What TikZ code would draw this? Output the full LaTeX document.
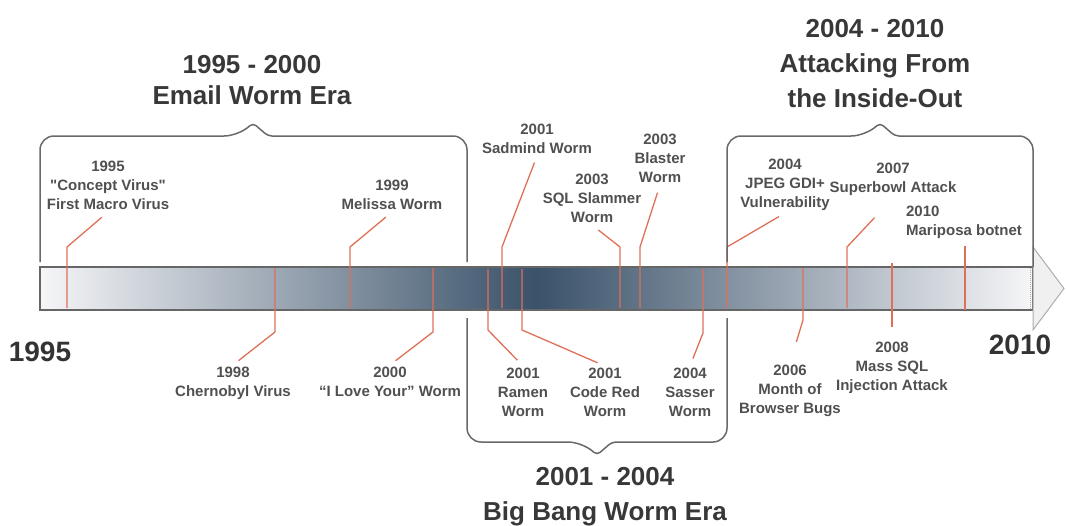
\documentclass[tikz,border=0pt]{standalone}
\usepackage{fontspec}
\setmainfont{Liberation Sans}
\definecolor{conncol}{RGB}{222,112,88}
\definecolor{bardark}{RGB}{58,82,106}
\definecolor{barlight}{RGB}{246,246,248}
\definecolor{txtgray}{RGB}{80,80,80}
\definecolor{brkgray}{RGB}{105,105,105}

\begin{document}
\begin{tikzpicture}[x=1pt, y=-1pt,
    every node/.style={text=txtgray},
    evt/.style={font=\fontsize{15}{19}\selectfont\bfseries, align=center, inner sep=2pt},
    era/.style={font=\fontsize{26}{35}\selectfont\bfseries, align=center, text=black!78},
    yr/.style={font=\fontsize{28}{30}\selectfont\bfseries, text=black!80},
    conn/.style={draw=conncol, line width=1.3pt},
    brk/.style={draw=brkgray, line width=1.5pt}
]
    \useasboundingbox (0,0) rectangle (1066,525);
    % time bar
    \draw[left color=barlight, right color=barlight, middle color=bardark,
          draw=gray!80!black, line width=1.2pt] (40,267) rectangle (1033,310);
    \draw[fill=gray!12, draw=gray!65, line width=1pt] (1033,247) -- (1064,288.5) -- (1033,330) -- cycle;
    \draw[densely dotted, gray!60, line width=1pt] (1030,268) -- (1030,309);
    % points on the bar
    \coordinate (b95) at (67,308);
    \coordinate (b99) at (350,308);
    \coordinate (b01s) at (502,308);
    \coordinate (b03q) at (620,308);
    \coordinate (b03b) at (640,308);
    \coordinate (b04j) at (727,308);
    \coordinate (b07) at (847,308);
    \coordinate (b10) at (965,310);
    \coordinate (b98) at (275,268);
    \coordinate (b00) at (433,268);
    \coordinate (b01r) at (488,269);
    \coordinate (b01c) at (522,269);
    \coordinate (b04s) at (703,269);
    \coordinate (b06) at (803,268);
    \coordinate (b08) at (892,263);
    % events above the bar
    \node[evt, anchor=south] (l95) at (108,212) {1995\\\textquotedbl Concept Virus\textquotedbl\\First Macro Virus};
    \node[evt, anchor=south] (l99) at (392,212) {1999\\Melissa Worm};
    \node[evt, anchor=south] (l01s) at (537,156) {2001\\Sadmind Worm};
    \node[evt, anchor=south] (l03q) at (592,225) {2003\\SQL Slammer\\Worm};
    \node[evt, anchor=south] (l03b) at (660,185) {2003\\Blaster\\Worm};
    \node[evt, anchor=south] (l04j) at (785,213) {2004\\JPEG GDI+\\Vulnerability};
    \node[evt, anchor=south] (l07) at (893,198) {2007\\Superbowl Attack};
    \node[evt, anchor=south, align=left] (l10) at (964,241) {2010\\Mariposa botnet};
    % events below the bar
    \node[evt, anchor=north] (l98) at (233,365) {1998\\Chernobyl Virus};
    \node[evt, anchor=north] (l00) at (390,365) {2000\\“I Love Your” Worm};
    \node[evt, anchor=north] (l01r) at (523,366) {2001\\Ramen\\Worm};
    \node[evt, anchor=north] (l01c) at (605,366) {2001\\Code Red\\Worm};
    \node[evt, anchor=north] (l04s) at (690,366) {2004\\Sasser\\Worm};
    \node[evt, anchor=north] (l06) at (790,363) {2006\\Month of\\Browser Bugs};
    \node[evt, anchor=north] (l08) at (892,340) {2008\\Mass SQL\\Injection Attack};
    % connectors
    \draw[conn, shorten <=8pt] (l95.south) -- (b95 |- 0,247) -- (b95);
    \draw[conn, shorten <=8pt] (l99.south) -- (b99 |- 0,247) -- (b99);
    \draw[conn, shorten <=7pt] (l01s.south) -- (b01s |- 0,247) -- (b01s);
    \draw[conn, shorten <=8pt] (l03q.south) -- (b03q |- 0,247) -- (b03q);
    \draw[conn, shorten <=8pt] (l03b.south) -- (b03b |- 0,247) -- (b03b);
    \draw[conn, shorten <=7pt] (l04j.south) -- (b04j |- 0,247) -- (b04j);
    \draw[conn, shorten <=27pt] (l07.south) -- (b07 |- 0,247) -- (b07);
    \draw[conn, shorten <=5pt] (l10.south -| b10) -- (b10);
    \draw[conn, shorten >=7pt] (b98) -- (b98 |- 0,332) -- (l98.north);
    \draw[conn, shorten >=7pt] (b00) -- (b00 |- 0,332) -- (l00.north);
    \draw[conn, shorten >=8pt] (b01r) -- (b01r |- 0,330) -- (l01r.north);
    \draw[conn, shorten >=8pt] (b01c) -- (b01c |- 0,330) -- (l01c.north);
    \draw[conn, shorten >=8pt] (b04s) -- (b04s |- 0,333) -- (l04s.north);
    \draw[conn, shorten >=22pt] (b06) -- (b06 |- 0,320) -- (l06.north);
    \draw[conn, shorten >=13pt] (b08) -- (l08.north);
    % era brackets
    \draw[brk] [rounded corners=14pt] (40,262) -- (40,136) -- (238,136)
        [rounded corners=4pt] -- (253,123) -- (268,136)
        [rounded corners=14pt] -- (467,136) -- (467,262);
    \draw[brk] [rounded corners=14pt] (727,262) -- (727,136) -- (865,136)
        [rounded corners=4pt] -- (880,123) -- (895,136)
        [rounded corners=14pt] -- (1033,136) -- (1033,267);
    \draw[brk] [rounded corners=14pt] (467,318) -- (467,442) -- (582,442)
        [rounded corners=4pt] -- (597,455) -- (612,442)
        [rounded corners=14pt] -- (727,442) -- (727,318);
    % era titles
    \node[era, font=\fontsize{26}{31}\selectfont\bfseries] (e1) at (252,80) {1995 - 2000\\Email Worm Era};
    \node[era] (e3) at (875,64) {2004 - 2010\\Attacking From\\the Inside-Out};
    \node[era] (e2) at (605,497) {2001 - 2004\\Big Bang Worm Era};
    % end years
    \node[yr] (y95) at (40,352) {1995};
    \node[yr] (y10) at (1020,345) {2010};
\end{tikzpicture}
\end{document}
